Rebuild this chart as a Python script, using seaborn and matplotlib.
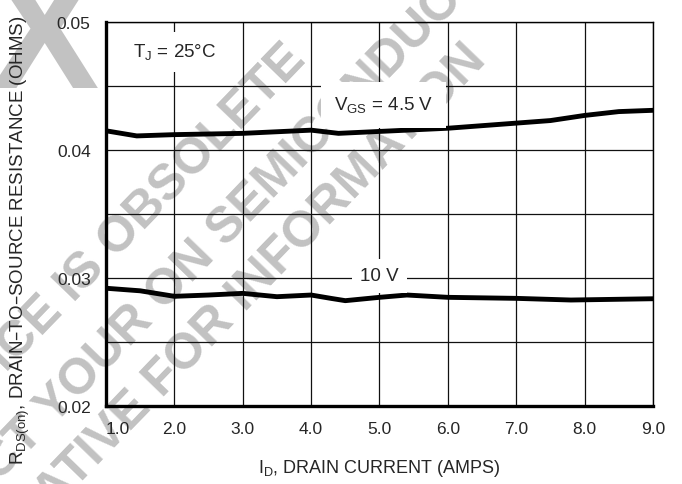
# RDS(on) vs drain current, two gate voltages
import numpy as np
import pandas as pd
import matplotlib.pyplot as plt
import seaborn as sns

# ---- data ----
id_45 = [1.0, 1.45, 2.0, 3.0, 4.0, 4.4, 5.0, 6.0, 6.5, 7.0, 7.5, 8.0, 8.5, 9.0]
rds_45 = [0.0415, 0.0411, 0.0412, 0.0413, 0.04155, 0.0413, 0.04145, 0.0417,
          0.0419, 0.0421, 0.0423, 0.0427, 0.0430, 0.0431]

id_10 = [1.0, 1.5, 2.0, 2.5, 3.0, 3.5, 4.0, 4.3, 4.5, 5.0, 5.4, 6.0, 7.0, 7.8, 9.0]
rds_10 = [0.0292, 0.0290, 0.02857, 0.02867, 0.0288, 0.02854, 0.02867, 0.0284,
          0.02823, 0.02849, 0.02867, 0.02849, 0.02841, 0.02828, 0.02838]

x_ticks = [1.0, 2.0, 3.0, 4.0, 5.0, 6.0, 7.0, 8.0, 9.0]
y_ticks = [0.02, 0.03, 0.04, 0.05]
y_grid = [0.025, 0.035, 0.045]

watermark = ["THIS DEVICE IS OBSOLETE",
             "CONTACT YOUR ON SEMICONDUCTOR",
             "REPRESENTATIVE FOR INFORMATION"]

df = pd.concat([
    pd.DataFrame({"id": id_45, "rds": rds_45, "vgs": "4.5 V"}),
    pd.DataFrame({"id": id_10, "rds": rds_10, "vgs": "10 V"}),
])

sns.set_style("white")
plt.rcParams["font.family"] = ["Liberation Sans", "DejaVu Sans"]

W, H = 682, 485
fig = plt.figure(figsize=(W / 100, H / 100), dpi=100)
ax = fig.add_axes([0.1554, 0.1608, 0.8021, 0.7918])

# grey "obsolete" stamp, drawn under the grid
wm_gray = "#c2c2c2"
wm_end = [(298, 52), (526, -82), (478, 52)]
for txt, (px, py) in zip(watermark, wm_end):
    fig.text(px / W, 1 - py / H, txt, rotation=46, rotation_mode="anchor",
             ha="right", va="center", fontsize=36, fontweight="bold",
             color=wm_gray, zorder=-1)
fig.text(44 / W, 1 - 46 / H, "X", ha="center", va="center", fontsize=118,
         fontweight="bold", color=wm_gray, zorder=-1)

sns.lineplot(data=df, x="id", y="rds", hue="vgs", palette=["black", "black"],
             linewidth=3.5, legend=False, ax=ax, zorder=5)

ax.set_xlim(1.0, 9.0)
ax.set_ylim(0.02, 0.05)
ax.set_xticks(x_ticks)
ax.set_xticklabels([f"{v:.1f}" for v in x_ticks])
ax.set_yticks(y_ticks)
ax.set_yticklabels([f"{v:.2f}" for v in y_ticks])
ax.set_yticks(y_grid, minor=True)
ax.tick_params(axis="both", which="both", length=0, labelsize=12.5, pad=11)
ax.get_xticklabels()[0].set_ha("left")

ax.grid(True, which="both", color="#111111", linewidth=0.9)
ax.set_axisbelow(True)
ax.patch.set_alpha(0)

for side in ["left", "bottom"]:
    ax.spines[side].set_linewidth(2.4)
for side in ["top", "right"]:
    ax.spines[side].set_linewidth(1.0)
for s in ax.spines.values():
    s.set_color("black")

ax.set_xlabel("I$_\\mathregular{D}$, DRAIN CURRENT (AMPS)", fontsize=13, labelpad=15)
ax.set_ylabel("R$_\\mathregular{DS(on)}$, DRAIN\u2013TO\u2013SOURCE RESISTANCE (OHMS)",
              fontsize=13.5)
ax.yaxis.set_label_coords(-0.135, 0.435)

ax.text(2.01, 0.04766, "T$_\\mathregular{J}$ = 25\u00b0C", fontsize=13.5,
        ha="center", va="center", zorder=6,
        bbox=dict(facecolor="white", edgecolor="none", pad=7))
ax.text(5.06, 0.04352, "V$_\\mathregular{GS}$ = 4.5 V", fontsize=13.5,
        ha="center", va="center", zorder=6,
        bbox=dict(facecolor="white", edgecolor="none", pad=9))
ax.text(5.0, 0.03016, "10 V", fontsize=13.5, ha="center", va="center", zorder=6,
        bbox=dict(facecolor="white", edgecolor="none", pad=6))

fig.savefig("out.png", dpi=100)
